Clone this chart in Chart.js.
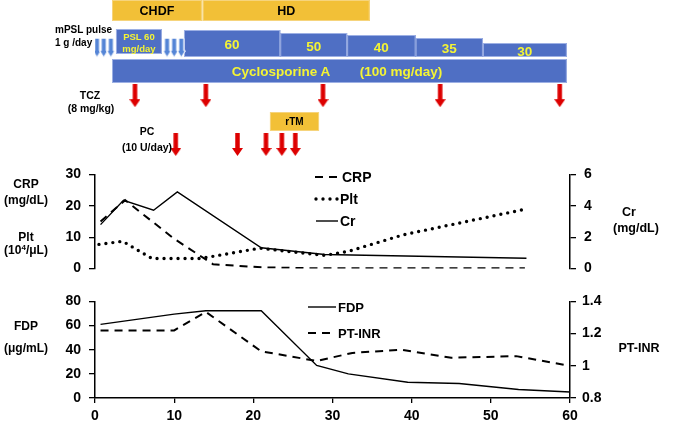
<!DOCTYPE html>
<html>
<head>
<meta charset="utf-8">
<script src="https://cdn.jsdelivr.net/npm/chart.js@4.4.1/dist/chart.umd.min.js"></script>
<style>
  body { margin: 0; background: #fff; }
  #wrap { position: relative; width: 675px; height: 428px; overflow: hidden;
          font-family: 'Liberation Sans', Arial, sans-serif; font-weight: bold; color: #000; }
  canvas { position: absolute; left: 0; }
  .t { position: absolute; white-space: nowrap; line-height: 1; transform: translate(-50%, -50%); }
  .t.l { transform: translate(0, -50%); }
</style>
</head>
<body>
<div id="wrap">
  <canvas id="timeline" width="675" height="165" style="top:0"></canvas>
  <canvas id="topChart" width="675" height="127" style="top:158px"></canvas>
  <canvas id="botChart" width="675" height="143" style="top:285px"></canvas>
</div>
<script>
// ---- lab values (day, value) ----
const crpDays = [0.7, 3.8, 10, 14.9, 21, 28, 54.3];
const crpVals = [15, 21.8, 9.5, 1.4, 0.4, 0.1, 0.1];
const pltDays = [0.5, 3.5, 7.2, 13.3, 20.8, 29, 32, 39, 54.5];
const pltVals = [7.7, 8.7, 3.2, 3.2, 6.5, 4.2, 5.5, 10.8, 19];
const crDays = [0.7, 3.6, 7.4, 10.4, 21, 29, 54.5];
const crVals = [2.8, 4.35, 3.72, 4.88, 1.33, 0.9, 0.66];
const fdpDays = [0.7, 10, 14, 21, 28, 32, 39.5, 46, 53.5, 60];
const fdpVals = [61, 69.5, 72.3, 72.3, 27, 20, 13, 12, 7, 5];
const inrDays = [0.7, 10, 14, 21, 28, 32.5, 38.7, 45, 53.2, 60];
const inrVals = [1.22, 1.22, 1.335, 1.09, 1.03, 1.08, 1.1, 1.05, 1.06, 1.0];

// ---- treatment timeline (days) ----
const dialysisModes = ['CHDF', 'HD'];
const dialysisSpans = [[2.15, 13.5], [13.6, 34.7]];
const pslInitSpan = [2.65, 8.45];
const pslDoses = ['60', '50', '40', '35', '30'];
const pslSpans = [[11.24, 23.4], [23.4, 31.85], [31.85, 40.5], [40.5, 49.0], [49.0, 59.6]];
const csaSpan = [2.15, 59.6];
const rtmSpan = [22.1, 28.3];
const mpslDays = [0.25, 1.1, 2.0, 9.1, 10.0, 10.9];
const tczDays = [5.05, 14.0, 28.8, 43.6, 58.7];
const pcDays = [10.2, 18.0, 21.6, 23.6, 25.3];

// ---- layout (page pixels) ----
const FONT = "'Liberation Sans', Arial, sans-serif";
const YELLOW = '#F2C037', BLUE = '#4F6FC4', BLUE_EDGE = '#9DB0E4', TXT_Y = '#F4F434', RED = '#DD0000';
const ROWS = { mode: [0, 21], pslInit: [29, 54], stepBottom: 57, stepTops: [30, 33, 35, 38, 43],
               csa: [59, 83], rtm: [112, 131], mpsl: 45.5, tcz: 96.5, pc: 148.5 };
const TOP_CANVAS = 158, BOT_CANVAS = 285;

function pts(xs, ys) { return xs.map((x, i) => ({ x: x, y: ys[i] })); }

function arrowImg(fill, w, h, shaft, head, edge) {
    const c = document.createElement('canvas');
    c.width = w; c.height = h;
    const g = c.getContext('2d');
    const cx = w / 2, e = edge ? 0.5 : 0;
    g.beginPath();
    g.moveTo(cx - shaft / 2, e);
    g.lineTo(cx + shaft / 2, e);
    g.lineTo(cx + shaft / 2, h - head);
    g.lineTo(w - e, h - head);
    g.lineTo(cx, h - e);
    g.lineTo(e, h - head);
    g.lineTo(cx - shaft / 2, h - head);
    g.closePath();
    g.fillStyle = fill;
    g.fill();
    if (edge) { g.strokeStyle = edge; g.lineWidth = 1; g.stroke(); }
    return c;
}

const redArrow = arrowImg(RED, 11, 23, 4.5, 8);
const blueArrow = arrowImg('#5585D6', 9, 20, 5, 7, '#ffffff');

const timelineBoxes = {
    id: 'timelineBoxes',
    beforeDatasetsDraw(chart) {
        const ctx = chart.ctx, x = chart.scales.x;
        const box = (span, top, bottom, fill, edge) => {
            const x0 = x.getPixelForValue(span[0]), x1 = x.getPixelForValue(span[1]);
            ctx.fillStyle = fill;
            ctx.fillRect(x0, top, x1 - x0, bottom - top);
            ctx.strokeStyle = edge;
            ctx.lineWidth = 1;
            ctx.strokeRect(x0 + 0.5, top + 0.5, x1 - x0 - 1, bottom - top - 1);
        };
        ctx.save();
        dialysisSpans.forEach(s => box(s, ROWS.mode[0], ROWS.mode[1], YELLOW, '#F6D47C'));
        box(pslInitSpan, ROWS.pslInit[0], ROWS.pslInit[1], BLUE, BLUE_EDGE);
        pslSpans.forEach((s, i) => box(s, ROWS.stepTops[i], ROWS.stepBottom, BLUE, BLUE_EDGE));
        box(csaSpan, ROWS.csa[0], ROWS.csa[1], BLUE, BLUE_EDGE);
        box(rtmSpan, ROWS.rtm[0], ROWS.rtm[1], YELLOW, '#F6D47C');
        ctx.restore();
    }
};

// sample lines for the in-plot legends
const legendLines = {
    id: 'legendLines',
    afterDatasetsDraw(chart, args, opts) {
        const ctx = chart.ctx;
        opts.items.forEach(it => {
            const ds = chart.data.datasets[it.ds];
            ctx.save();
            ctx.strokeStyle = '#000';
            ctx.lineWidth = ds.borderWidth;
            ctx.lineCap = ds.borderCapStyle || 'butt';
            ctx.setLineDash(ds.borderDash || []);
            ctx.beginPath();
            ctx.moveTo(it.x0, it.y - opts.top);
            ctx.lineTo(it.x1, it.y - opts.top);
            ctx.stroke();
            ctx.restore();
        });
    }
};

const tickFont = { family: FONT, size: 14, weight: 'bold' };
function yAxis(pos, min, max, step, width, pad, fmt) {
    return {
        type: 'linear', position: pos, min: min, max: max,
        ticks: { stepSize: step, font: tickFont, color: '#000', padding: pad,
                 callback: fmt || (v => v) },
        grid: { drawOnChartArea: false, drawTicks: true, tickLength: 6, color: '#000', lineWidth: 1.3 },
        border: { color: '#000', width: 1.5 },
        afterFit: s => { s.width = width; }
    };
}
const baseOpts = {
    responsive: false, animation: false, events: [],
    plugins: { legend: { display: false }, tooltip: { enabled: false } }
};

// ---- timeline chart ----
const tl = new Chart(document.getElementById('timeline'), {
    type: 'scatter',
    data: {
        datasets: [
            { data: mpslDays.map(d => ({ x: d, y: ROWS.mpsl })), pointStyle: blueArrow },
            { data: tczDays.map(d => ({ x: d, y: ROWS.tcz })), pointStyle: redArrow },
            { data: pcDays.map(d => ({ x: d, y: ROWS.pc })), pointStyle: redArrow }
        ]
    },
    options: Object.assign({}, baseOpts, {
        layout: { padding: { left: 95, right: 105, top: 0, bottom: 0 } },
        scales: {
            x: { type: 'linear', min: 0, max: 60, display: false },
            y: { type: 'linear', min: 0, max: 165, reverse: true, display: false }
        }
    }),
    plugins: [timelineBoxes]
});

// ---- CRP / Plt / Cr ----
new Chart(document.getElementById('topChart'), {
    type: 'scatter',
    data: {
        datasets: [
            { label: 'CRP', data: pts(crpDays, crpVals), yAxisID: 'y', showLine: true, pointRadius: 0,
              borderColor: '#000', borderWidth: 2, borderDash: [8, 6] },
            { label: 'Plt', data: pts(pltDays, pltVals), yAxisID: 'y', showLine: true, pointRadius: 0,
              borderColor: '#000', borderWidth: 3.4, borderDash: [0, 7], borderCapStyle: 'round' },
            { label: 'Cr', data: pts(crDays, crVals), yAxisID: 'y2', showLine: true, pointRadius: 0,
              borderColor: '#000', borderWidth: 1.4 }
        ]
    },
    options: Object.assign({}, baseOpts, {
        layout: { padding: { left: 0, right: 0, top: 12, bottom: 12 } },
        scales: {
            x: { type: 'linear', min: 0, max: 60, display: false },
            y: yAxis('left', 0, 30, 10, 95, 8),
            y2: yAxis('right', 0, 6, 2, 105, 8)
        },
        plugins: Object.assign({}, baseOpts.plugins, {
            legendLines: { top: TOP_CANVAS, items: [
                { ds: 0, x0: 315, x1: 338, y: 177 },
                { ds: 1, x0: 316, x1: 338, y: 199 },
                { ds: 2, x0: 316, x1: 338, y: 221 }
            ] }
        })
    }),
    plugins: [legendLines]
});

// ---- FDP / PT-INR ----
new Chart(document.getElementById('botChart'), {
    type: 'scatter',
    data: {
        datasets: [
            { label: 'FDP', data: pts(fdpDays, fdpVals), yAxisID: 'y', showLine: true, pointRadius: 0,
              borderColor: '#000', borderWidth: 1.4 },
            { label: 'PT-INR', data: pts(inrDays, inrVals), yAxisID: 'y2', showLine: true, pointRadius: 0,
              borderColor: '#000', borderWidth: 2, borderDash: [8, 6] }
        ]
    },
    options: Object.assign({}, baseOpts, {
        layout: { padding: { left: 0, right: 0, top: 12, bottom: 0 } },
        scales: {
            x: { type: 'linear', min: 0, max: 60,
                 ticks: { stepSize: 10, font: tickFont, color: '#000', padding: 5 },
                 grid: { drawOnChartArea: false, drawTicks: true, tickLength: 5, color: '#000', lineWidth: 1.3 },
                 border: { color: '#000', width: 1.5 },
                 afterFit: s => { s.height = 30; } },
            y: yAxis('left', 0, 80, 20, 95, 8),
            y2: yAxis('right', 0.8, 1.4, 0.2, 105, 6, v => String(parseFloat(v.toFixed(2))))
        },
        plugins: Object.assign({}, baseOpts.plugins, {
            legendLines: { top: BOT_CANVAS, items: [
                { ds: 0, x0: 308, x1: 336, y: 307 },
                { ds: 1, x0: 308, x1: 336, y: 333 }
            ] }
        })
    }),
    plugins: [legendLines]
});

// ---- text ----
const wrap = document.getElementById('wrap');
function addText(html, x, y, size, opts) {
    opts = opts || {};
    const d = document.createElement('div');
    d.className = 't' + (opts.left ? ' l' : '');
    d.innerHTML = html;
    d.style.left = x + 'px';
    d.style.top = y + 'px';
    d.style.fontSize = size + 'px';
    if (opts.color) d.style.color = opts.color;
    wrap.appendChild(d);
}
const tx = tl.scales.x;
const mid = s => (tx.getPixelForValue(s[0]) + tx.getPixelForValue(s[1])) / 2;

dialysisModes.forEach((m, i) => addText(m, mid(dialysisSpans[i]), 11, 12.5));
addText('PSL 60', mid(pslInitSpan), 37, 9.5, { color: TXT_Y });
addText('mg/day', mid(pslInitSpan), 48.5, 9.5, { color: TXT_Y });
pslDoses.forEach((d, i) => addText(d, mid(pslSpans[i]), (ROWS.stepTops[i] + ROWS.stepBottom) / 2 + 1.5, 13.5, { color: TXT_Y }));
addText('Cyclosporine A', 281, 71.5, 13.5, { color: TXT_Y });
addText('(100 mg/day)', 401, 71.5, 13.5, { color: TXT_Y });
addText('rTM', mid(rtmSpan), 122, 10);
addText('mPSL pulse', 55, 30, 10, { left: true });
addText('1 g /day', 55, 42.5, 10, { left: true });
addText('TCZ', 90, 95, 10.5);
addText('(8 mg/kg)', 91, 108, 10.5);
addText('PC', 147, 131, 10.5);
addText('(10 U/day)', 147, 147, 10.5);

addText('CRP', 26, 184, 12);
addText('(mg/dL)', 26, 200, 12);
addText('Plt', 26, 237, 12);
addText('(10<sup style="font-size:8px;vertical-align:4px">4</sup>/\u03bcL)', 26, 250, 12);
addText('Cr', 629, 212, 12.5);
addText('(mg/dL)', 636, 228, 12.5);
addText('FDP', 26, 326, 12);
addText('(\u03bcg/mL)', 26, 348, 12);
addText('PT-INR', 639, 348, 12.5);

addText('CRP', 342, 177, 14, { left: true });
addText('Plt', 340, 199, 14, { left: true });
addText('Cr', 340, 221, 14, { left: true });
addText('FDP', 338, 307, 13, { left: true });
addText('PT-INR', 338, 333, 13, { left: true });
</script>
</body>
</html>
